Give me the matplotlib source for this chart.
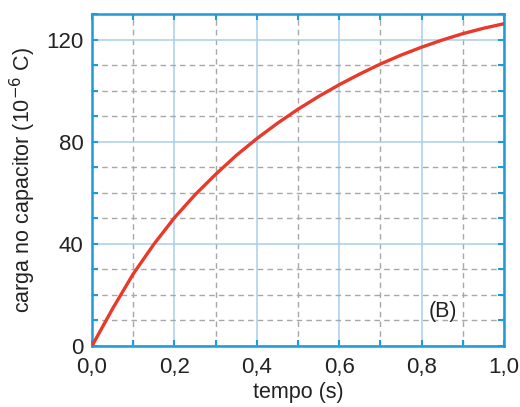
import matplotlib
matplotlib.use("Agg")
import matplotlib.pyplot as plt
from matplotlib.ticker import MultipleLocator, FuncFormatter

# Values
tempo = [0.0, 0.05, 0.1, 0.15, 0.2, 0.25, 0.3, 0.35, 0.4, 0.45, 0.5,
         0.55, 0.6, 0.65, 0.7, 0.75, 0.8, 0.85, 0.9, 0.95, 1.0]
carga = [0.0, 14.6, 28.2, 39.8, 50.2, 59.2, 67.2, 74.6, 81.2, 87.2, 92.7,
         97.7, 102.3, 106.5, 110.4, 113.9, 117.0, 119.8, 122.3, 124.4, 126.2]

y_major = [0, 40, 80, 120]
x_major = [0.0, 0.2, 0.4, 0.6, 0.8, 1.0]

plt.rcParams['font.family'] = ['Liberation Sans', 'DejaVu Sans']

spine_blue = "#1f9bd7"
text_color = "#222222"

fig = plt.figure(figsize=(5.2, 4.07), dpi=100)
ax = fig.add_axes([0.1769, 0.1499, 0.7923, 0.8157])

ax.plot(tempo, carga, color="#e8392a", linewidth=2.4, zorder=3)

ax.set_xlim(0, 1.0)
ax.set_ylim(0, 130)
ax.set_xticks(x_major)
ax.set_yticks(y_major)
ax.xaxis.set_minor_locator(MultipleLocator(0.1))
ax.yaxis.set_minor_locator(MultipleLocator(10))
ax.xaxis.set_major_formatter(FuncFormatter(lambda v, p: f"{v:.1f}".replace(".", ",")))

# Grid: solid light blue for major, dashed gray for minor
ax.grid(True, which="major", color="#a9cdee", linewidth=1.1, linestyle="-")
ax.grid(True, which="minor", color="#a8a8a8", linewidth=1.0, linestyle=(0, (4, 3)))
ax.set_axisbelow(True)

for s in ax.spines.values():
    s.set_color(spine_blue)
    s.set_linewidth(1.8)

ax.tick_params(which="both", direction="in", top=True, right=True, color=spine_blue,
               length=4, width=1.5, labelsize=16, labelcolor=text_color)
ax.tick_params(axis="x", pad=8)
ax.tick_params(axis="y", pad=6)

ax.set_xlabel("tempo (s)", fontsize=15.5, color=text_color, labelpad=3)
ax.set_ylabel("carga no capacitor (10$^{-6}$ C)", fontsize=15.5, color=text_color, labelpad=6)

ax.text(0.852, 13.7, "(B)", fontsize=15.5, color=text_color, ha="center", va="center")

fig.savefig("out.png", dpi=100)
